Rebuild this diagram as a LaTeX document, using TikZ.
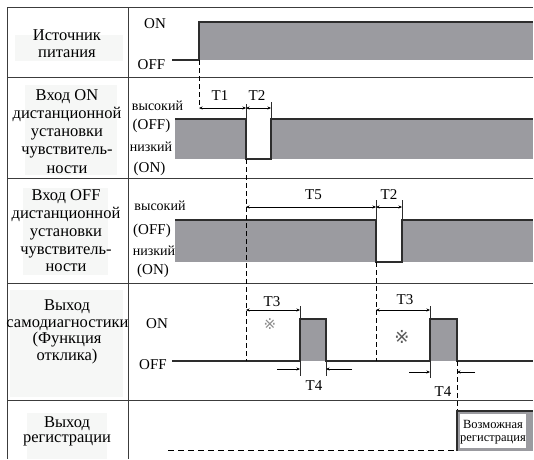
\documentclass[tikz,border=0pt]{standalone}
\usepackage{fontspec}
\setmainfont{Liberation Serif}
\newfontfamily\symfnt{DejaVu Sans}
\usetikzlibrary{arrows.meta}
\definecolor{sigc}{RGB}{155,155,160}
\definecolor{edgec}{RGB}{45,45,45}
\definecolor{gridc}{RGB}{60,60,60}
\definecolor{lblbg}{RGB}{246,247,246}
\begin{document}
\begin{tikzpicture}[x=1pt,y=-1pt,
  gridline/.style={draw=gridc,line width=0.9pt},
  sigline/.style={draw=edgec,line width=1.1pt},
  tick/.style={draw=edgec,line width=0.8pt},
  dim/.style={draw=black,line width=0.7pt,{Stealth[length=3.5pt,width=3pt]}-{Stealth[length=3.5pt,width=3pt]}},
  dimr/.style={draw=black,line width=0.7pt,-{Stealth[length=3.5pt,width=3pt]}},
  dashv/.style={draw=black,line width=0.9pt,dash pattern=on 5pt off 3pt},
  dashh/.style={draw=black,line width=0.9pt,dash pattern=on 6pt off 4pt},
  lbl/.style={font=\fontsize{16.5}{18}\selectfont,inner sep=0pt,anchor=base},
  lvl/.style={font=\fontsize{15}{17}\selectfont,inner sep=0pt,anchor=base},
  sml/.style={font=\fontsize{14}{16}\selectfont,inner sep=0pt,anchor=base},
  tiny/.style={font=\fontsize{12.5}{14}\selectfont,inner sep=0pt,anchor=base},
  mark1/.style={font=\symfnt\fontsize{15}{15}\selectfont,text=black!45,inner sep=0pt},
  mark2/.style={font=\symfnt\fontsize{18}{18}\selectfont,text=black!65,inner sep=0pt}
]
\useasboundingbox (0,0) rectangle (534,459);

% faint label backgrounds
\fill[lblbg] (15,35) rectangle (123,61);
\fill[lblbg] (25,85) rectangle (117,175);
\fill[lblbg] (23,188) rectangle (108,275);
\fill[lblbg] (10,290) rectangle (123,397);
\fill[lblbg] (27,413) rectangle (107,459);

% grid
\draw[gridline] (7,7) -- (533,7);
\draw[gridline] (7,77) -- (533,77);
\draw[gridline] (7,178) -- (533,178);
\draw[gridline] (7,283) -- (533,283);
\draw[gridline] (7,400) -- (533,400);
\draw[gridline] (7,7) -- (7,459);
\draw[gridline] (128,7) -- (128,459);

% left labels
\node[lbl] (r1a) at (67,40) {Источник};
\node[lbl] (r1b) at (67,57) {питания};
\node[lbl] (r2a) at (67,100) {Вход ON};
\node[lbl] (r2b) at (67,118) {дистанционной};
\node[lbl] (r2c) at (67,136) {установки};
\node[lbl] (r2d) at (67,154.5) {чувствитель-};
\node[lbl] (r2e) at (67,173) {ности};
\node[lbl] (r3a) at (66,200.5) {Вход OFF};
\node[lbl] (r3b) at (66,218) {дистанционной};
\node[lbl] (r3c) at (66,236) {установки};
\node[lbl] (r3d) at (66,254) {чувствитель-};
\node[lbl] (r3e) at (66,271) {ности};
\node[lbl] (r4a) at (67,310) {Выход};
\node[lbl] (r4b) at (67.5,327) {самодиагностики};
\node[lbl] (r4c) at (67,343.5) {(Функция};
\node[lbl] (r4d) at (67,360) {отклика)};
\node[lbl] (r5a) at (67,427) {Выход};
\node[lbl] (r5b) at (67,442) {регистрации};

% level labels
\node[lvl] (s1on) at (155,28.5) {ON};
\node[lvl] (s1off) at (151.5,69) {OFF};
\node[sml] (s2hi) at (157.5,110) {высокий};
\node[lvl] (s2off) at (151.5,129) {(OFF)};
\node[sml] (s2lo) at (151,151.5) {низкий};
\node[lvl] (s2on) at (149.5,172) {(ON)};
\node[sml] (s3hi) at (160,210.5) {высокий};
\node[lvl] (s3off) at (152,234) {(OFF)};
\node[sml] (s3lo) at (154,255) {низкий};
\node[lvl] (s3on) at (153,274) {(ON)};
\node[lvl] (s4on) at (157,328) {ON};
\node[lvl] (s4off) at (153,369) {OFF};

% row 1 : power
\fill[sigc] (199,22) rectangle (533,60);
\draw[sigline] (172,60) -- (199,60) -- (199,22) -- (533,22);

% row 2 : ON input
\fill[sigc] (175,119) rectangle (246,159);
\fill[sigc] (271,119) rectangle (533,159);
\draw[sigline] (175,119) -- (246,119) -- (246,159) -- (271,159) -- (271,119) -- (533,119);
\draw[tick] (246,119) -- (246,104);
\draw[tick] (271,119) -- (271,102);
\coordinate (a1) at (199,108);
\coordinate (a2) at (246,108);
\coordinate (a3) at (271,108);
\draw[dim] (a1) -- (a2);
\draw[dim] (a2) -- (a3);
\node[lvl] (t1) at (220,100) {T1};
\node[lvl] (t2a) at (257,100) {T2};

% row 3 : OFF input
\fill[sigc] (175,220) rectangle (376,262);
\fill[sigc] (402,220) rectangle (533,262);
\draw[sigline] (175,220) -- (376,220) -- (376,262) -- (402,262) -- (402,220) -- (533,220);
\draw[tick] (376,220) -- (376,200);
\draw[tick] (402,220) -- (402,200);
\coordinate (b1) at (246,207);
\coordinate (b2) at (376,207);
\coordinate (b3) at (402,207);
\draw[dim] (b1) -- (b2);
\draw[dim] (b2) -- (b3);
\node[lvl] (t5) at (313.5,199) {T5};
\node[lvl] (t2b) at (389,199) {T2};

% row 4 : self-diagnosis output
\fill[sigc] (300,319) rectangle (326,361);
\fill[sigc] (430,319) rectangle (457,361);
\draw[sigline] (172,361) -- (300,361) -- (300,319) -- (326,319) -- (326,361) -- (430,361) -- (430,319) -- (457,319) -- (457,361) -- (533,361);
\draw[tick] (300,306) -- (300,319);
\draw[tick] (430,306) -- (430,319);
\coordinate (c1) at (246,310);
\coordinate (c2) at (300,310);
\coordinate (c3) at (376,310);
\coordinate (c4) at (430,310);
\draw[dim] (c1) -- (c2);
\draw[dim] (c3) -- (c4);
\node[lvl] (t3a) at (272,306) {T3};
\node[lvl] (t3b) at (405,304) {T3};
\node[mark1] (m1) at (270,324) {※};
\node[mark2] (m2) at (402,337) {※};

\draw[tick] (300,362) -- (300,376);
\draw[tick] (326,361) -- (326,376);
\coordinate (d1) at (277,369);
\coordinate (d2) at (300,369);
\coordinate (d3) at (352,369);
\coordinate (d4) at (326,369);
\draw[dimr] (d1) -- (d2);
\draw[dimr] (d3) -- (d4);
\node[lvl] (t4a) at (314,390) {T4};

\draw[tick] (430,361) -- (430,378);
\coordinate (e1) at (409,372);
\coordinate (e2) at (430,372);
\coordinate (e3) at (475,372);
\coordinate (e4) at (457,372);
\draw[dimr] (e1) -- (e2);
\draw[dimr] (e3) -- (e4);
\node[lvl] (t4b) at (443,396) {T4};

% dashed guides
\draw[dashv] (199,60) -- (a1);
\draw[dashv] (246,159) -- (246,361);
\draw[dashv] (376,262) -- (376,361);
\draw[dashv] (457,361) -- (457,411);

% row 5 : registration output
\draw[dashh] (168,450) -- (457,450);
\fill[sigc] (457,411) rectangle (533,451);
\fill[white] (460,414) rectangle (526,448);
\draw[sigline] (457,451) -- (457,411) -- (533,411);
\node[tiny] (reg1) at (493,428) {Возможная};
\node[tiny] (reg2) at (493,441.5) {регистрация};
\end{tikzpicture}
\end{document}
